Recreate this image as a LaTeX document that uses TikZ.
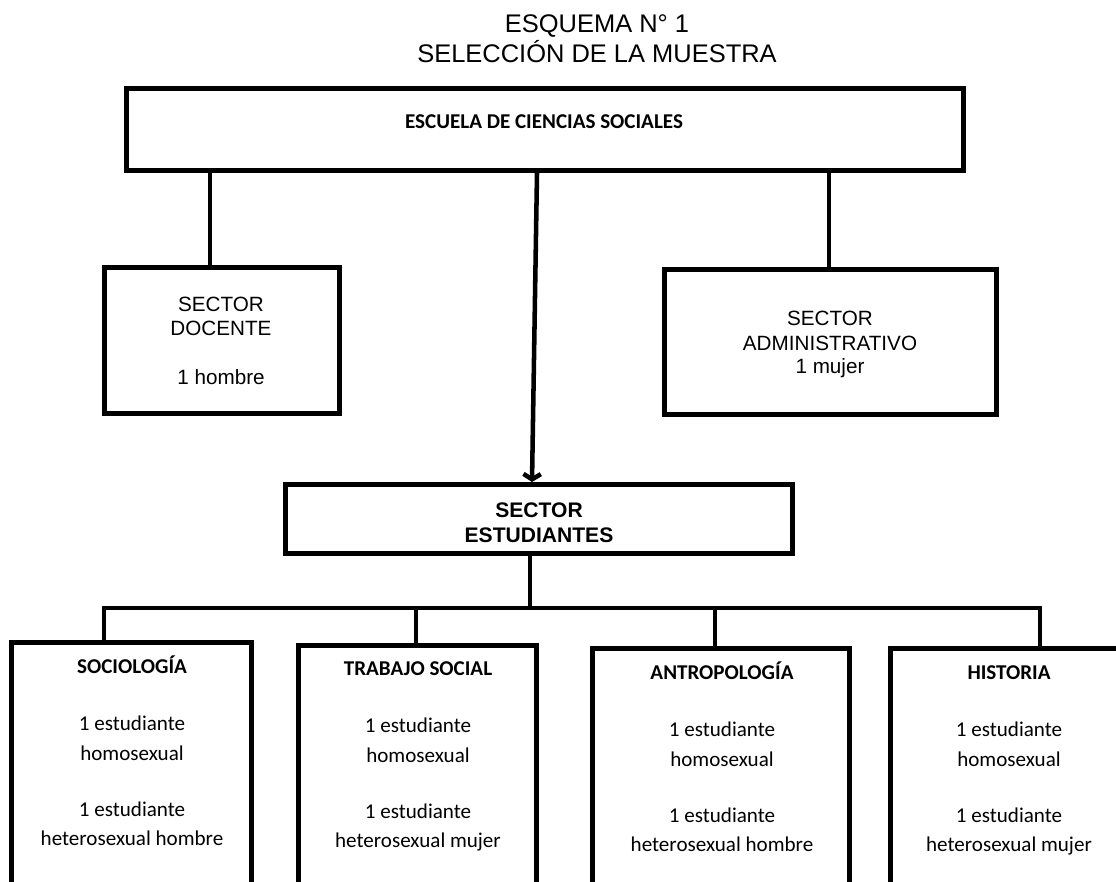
\documentclass[tikz,border=0pt]{standalone}
\usepackage{fontspec}
\setmainfont{Liberation Sans}
\newfontfamily\calfont{Carlito}
\usetikzlibrary{arrows.meta}
\newcommand{\carrera}[5]{%
  \node[calb] (#1-t) at (#2,#3) {#4};
  \node[cal] (#1-a) at (#2,#3+57) {1 estudiante};
  \node[cal] (#1-b) at (#2,#3+87) {homosexual};
  \node[cal] (#1-c) at (#2,#3+143) {1 estudiante};
  \node[cal] (#1-d) at (#2,#3+172) {#5};
}
\begin{document}
\begin{tikzpicture}[x=0.75pt,y=-0.75pt,
  box/.style={draw=black, line width=3.75pt, fill=white, inner sep=0pt},
  conn/.style={draw=black, line width=3.4pt},
  ttl/.style={font=\fontsize{19.1}{22}\selectfont, anchor=base, inner sep=0pt},
  ar/.style={font=\fontsize{15.5}{18}\selectfont, anchor=base, inner sep=0pt},
  arb/.style={font=\fontsize{15.8}{18}\selectfont\bfseries, anchor=base, inner sep=0pt},
  cal/.style={font=\calfont\fontsize{15.8}{18}\selectfont, anchor=base, inner sep=0pt},
  calb/.style={font=\calfont\fontsize{15.8}{18}\selectfont\bfseries, anchor=base, inner sep=0pt}]
\useasboundingbox (0,0) rectangle (1116,881);
\clip (0,0) rectangle (1116,881);

% title
\node[ttl] (t1) at (597,33) {ESQUEMA N° 1};
\node[ttl] (t2) at (597,63) {SELECCIÓN DE LA MUESTRA};

% boxes
\node[box, minimum width=837*0.75pt, minimum height=82*0.75pt] (esc) at (545,129.5) {};
\node[box, minimum width=235*0.75pt, minimum height=146*0.75pt] (doc) at (222,340.5) {};
\node[box, minimum width=332*0.75pt, minimum height=145*0.75pt] (adm) at (830.5,342) {};
\node[box, minimum width=507*0.75pt, minimum height=69*0.75pt] (est) at (539,519) {};
\node[box, anchor=north, minimum width=240*0.75pt, minimum height=300*0.75pt] (soc) at (131.5,640) {};
\node[box, anchor=north, minimum width=238*0.75pt, minimum height=300*0.75pt] (tra) at (417.5,643) {};
\node[box, anchor=north, minimum width=257*0.75pt, minimum height=300*0.75pt] (ant) at (721,646) {};
\node[box, anchor=north, minimum width=237*0.75pt, minimum height=300*0.75pt] (his) at (1009,646) {};

% texts
\node[calb] (esc-t) at (544,128) {ESCUELA DE CIENCIAS SOCIALES};
\node[ar] (doc-a) at (221,311.5) {SECTOR};
\node[ar] (doc-b) at (221,335.5) {DOCENTE};
\node[ar] (doc-c) at (221,384) {1 hombre};
\node[ar] (adm-a) at (830,325.5) {SECTOR};
\node[ar] (adm-b) at (830,350) {ADMINISTRATIVO};
\node[ar] (adm-c) at (830,373.5) {1 mujer};
\node[arb] (est-a) at (539,517) {SECTOR};
\node[arb] (est-b) at (539,542) {ESTUDIANTES};
\carrera{soc}{132}{673}{SOCIOLOGÍA}{heterosexual hombre}
\carrera{tra}{418}{675}{TRABAJO SOCIAL}{heterosexual mujer}
\carrera{ant}{722}{679}{ANTROPOLOGÍA}{heterosexual hombre}
\carrera{his}{1009}{679}{HISTORIA}{heterosexual mujer}

% connectors
\coordinate (bus) at (530,608);
\draw[conn] (esc.south -| 210,0) -- (doc.north -| 210,0);
\draw[conn] (esc.south -| 829,0) -- (adm.north -| 829,0);
\draw[conn, -{Straight Barb[length=4pt,width=13pt]}] (esc.south -| 537,0) -- (est.north -| 532,0);
\draw[conn] (est.south -| bus) -- (bus);
\draw[conn, line cap=rect] (soc.north -| 104,0) -- (104,608) -- (1040,608) -- (his.north -| 1040,0);
\draw[conn] (416,608) -- (tra.north -| 416,0);
\draw[conn] (715,608) -- (ant.north -| 715,0);
\end{tikzpicture}
\end{document}
